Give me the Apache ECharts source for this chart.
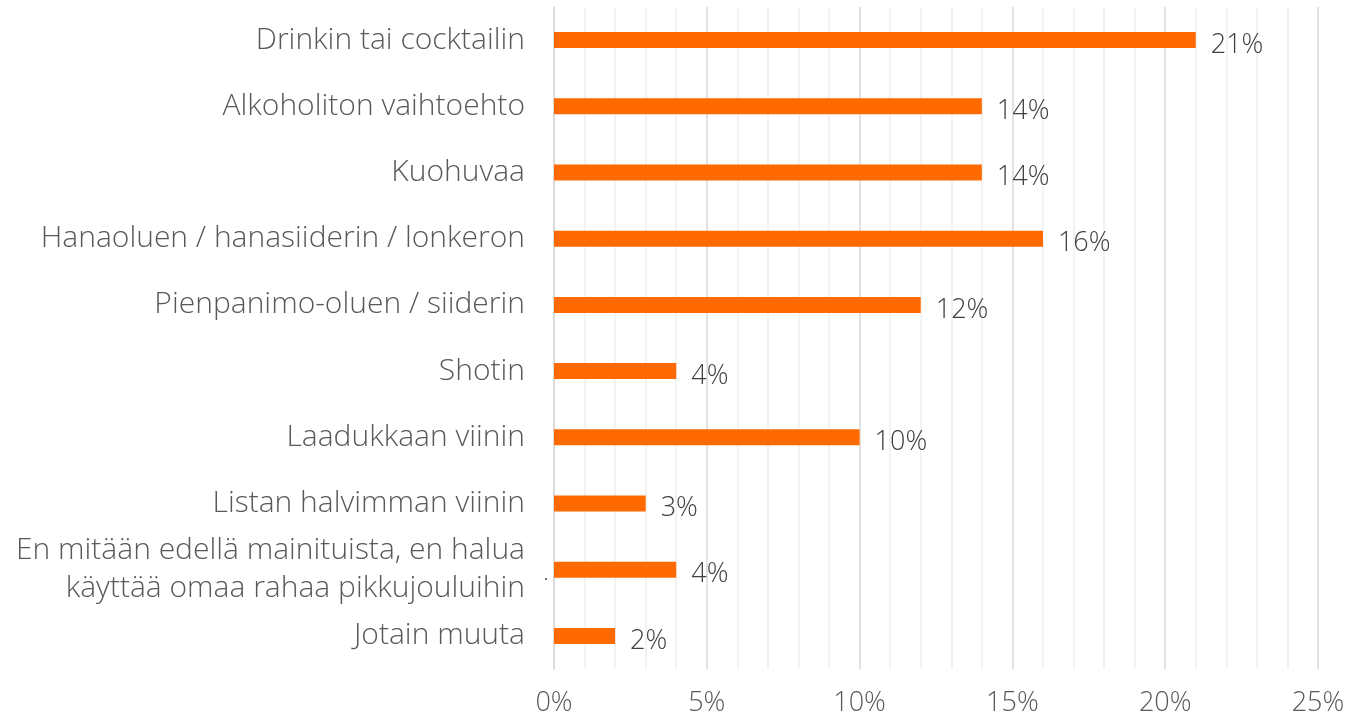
<!DOCTYPE html>
<html>
<head>
<meta charset="utf-8">
<script src="https://cdn.jsdelivr.net/npm/echarts@6/dist/echarts.min.js"></script>
<style>
html,body{margin:0;padding:0;background:#fff;}
#c{width:1367px;height:722px;}
</style>
</head>
<body>
<div id="c"></div>
<script>
const categories = [
  "Drinkin tai cocktailin",
  "Alkoholiton vaihtoehto",
  "Kuohuvaa",
  "Hanaoluen / hanasiiderin / lonkeron",
  "Pienpanimo-oluen / siiderin",
  "Shotin",
  "Laadukkaan viinin",
  "Listan halvimman viinin",
  "En mitään edellä mainituista, en halua\nkäyttää omaa rahaa pikkujouluihin",
  "Jotain muuta"
];
const values = [21, 14, 14, 16, 12, 4, 10, 3, 4, 2];
const xTicks = [0, 5, 10, 15, 20, 25];

const chart = echarts.init(document.getElementById('c'));
const font = '"Open Sans", "Noto Sans", sans-serif';
chart.setOption({
  animation: false,
  grid: { left: 554, right: 49, top: 7, bottom: 53, containLabel: false },
  xAxis: {
    type: 'value', min: xTicks[0], max: xTicks[xTicks.length - 1], interval: 5,
    axisLine: { show: false }, axisTick: { show: false },
    axisLabel: { formatter: v => v + '%', color: '#595959', fontSize: 27, fontWeight: 300, fontFamily: font, margin: 21 },
    splitLine: { show: true, lineStyle: { color: '#d9d9d9', width: 1.5 } },
    minorTick: { show: false, splitNumber: 5 },
    minorSplitLine: { show: true, lineStyle: { color: '#efefef', width: 1.5 } }
  },
  yAxis: {
    type: 'category', data: categories, inverse: true,
    axisLine: { show: true, lineStyle: { color: '#d9d9d9', width: 1.5 } },
    axisTick: { show: false },
    axisLabel: { color: '#595959', fontSize: 30, fontWeight: 300, fontFamily: font, margin: 29, lineHeight: 38, align: 'right', padding: [4, 0, 0, 0] }
  },
  series: [{
    type: 'bar', data: values, barWidth: 16,
    itemStyle: { color: '#ff6a00' },
    label: {
      show: true, position: 'right', distance: 15, offset: [0, 5],
      formatter: p => p.value + '%', color: '#404040', fontSize: 27, fontWeight: 300, fontFamily: font
    }
  }]
});
// small stray dot next to the two-line category, as in the reference
const p = chart.convertToPixel({ xAxisIndex: 0, yAxisIndex: 0 }, [0, 8]);
chart.setOption({
  graphic: [{ type: 'text', x: p[0] - 10, y: p[1] - 2, style: { text: '.', fill: '#404040', font: '16px ' + font } }]
});
</script>
</body>
</html>
